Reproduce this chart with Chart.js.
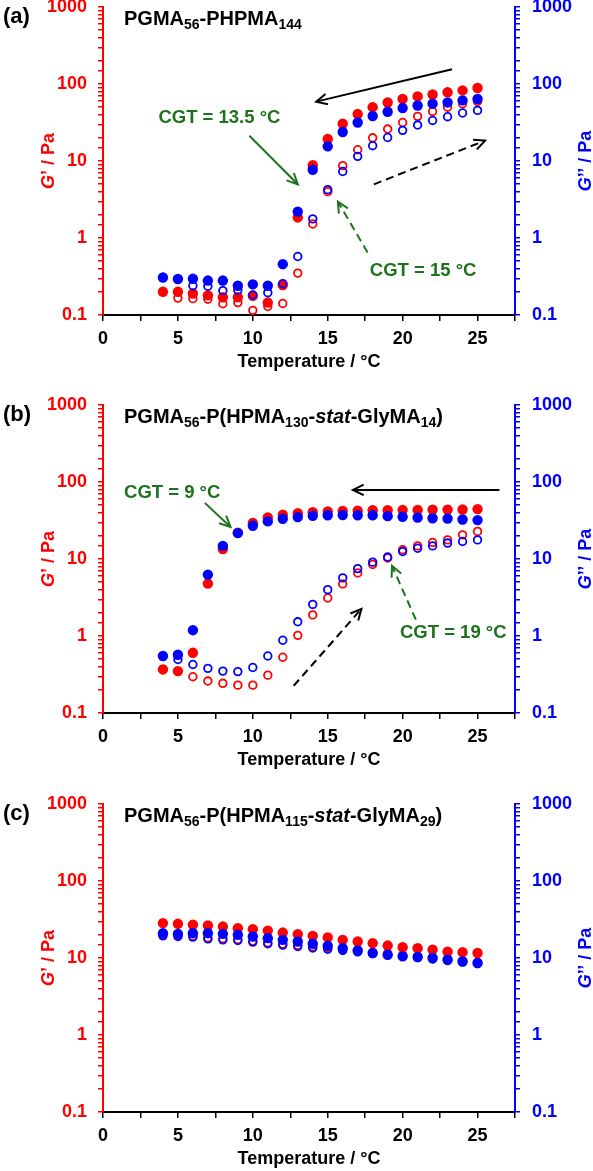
<!DOCTYPE html>
<html>
<head>
<meta charset="utf-8">
<script src="https://cdn.jsdelivr.net/npm/chart.js"></script>
<style>
body { margin: 0; width: 593px; height: 1171px; overflow: hidden; background: #fff; position: relative; }
canvas { position: absolute; left: 0; }
</style>
</head>
<body>
<canvas id="chart-a" width="593" height="395" style="top:-3px"></canvas>
<canvas id="chart-b" width="593" height="395" style="top:395px"></canvas>
<canvas id="chart-c" width="593" height="395" style="top:794px"></canvas>
<script>
// temperatures (°C), same for every panel
const temps = [4, 5, 6, 7, 8, 9, 10, 11, 12, 13, 14, 15, 16, 17, 18, 19, 20, 21, 22, 23, 24, 25];

// (a) PGMA56-PHPMA144 : filled = cooling, open = heating
const aCoolGp  = [0.20, 0.20, 0.19, 0.18, 0.17, 0.17, 0.178, 0.145, 0.245, 1.85, 8.8, 19.3, 30.5, 40.7, 50, 57.5, 63.8, 69, 73, 78, 82.6, 88.7];
const aCoolGpp = [0.307, 0.293, 0.295, 0.28, 0.28, 0.24, 0.25, 0.24, 0.457, 2.2, 7.7, 15.5, 23.8, 31.6, 38.4, 43.6, 48.7, 52.6, 55.5, 57.6, 61.2, 63.8];
const aHeatGp  = [null, 0.166, 0.163, 0.16, 0.14, 0.145, 0.115, 0.129, 0.141, 0.35, 1.52, 4.0, 8.7, 14, 20, 26, 31.6, 38, 44, 50, 55.5, 59.4];
const aHeatGpp = [null, null, 0.24, 0.236, 0.207, 0.21, 0.182, 0.195, 0.255, 0.575, 1.77, 4.24, 7.3, 11.5, 15.8, 20.2, 25, 29.3, 33.6, 37.6, 42, 45.4];

// (b) PGMA56-P(HPMA130-stat-GlyMA14)
const bCoolGp  = [0.368, 0.35, 0.605, 4.79, 13.5, 22, 29.3, 34.7, 37.5, 39.4, 40.6, 41.5, 42, 42.5, 43, 43, 43.2, 43.4, 43.6, 43.8, 44, 44.5];
const bCoolGpp = [0.55, 0.57, 1.19, 6.27, 14.8, 21.7, 27, 30.8, 33.3, 35, 36.4, 37, 37.2, 37, 37, 36, 35.3, 34.6, 33.8, 33.5, 32.6, 32];
const bHeatGp  = [null, null, 0.296, 0.26, 0.243, 0.23, 0.23, 0.31, 0.53, 1.02, 1.88, 3.12, 4.75, 6.6, 8.5, 10.3, 13.2, 14.8, 16.4, 17.7, 20.6, 22.8];
const bHeatGpp = [null, 0.495, 0.427, 0.38, 0.35, 0.345, 0.39, 0.55, 0.88, 1.53, 2.57, 4.0, 5.68, 7.5, 9.1, 10.6, 12.5, 13.8, 14.8, 16.1, 16.9, 17.7];

// (c) PGMA56-P(HPMA115-stat-GlyMA29)
const cCoolGp  = [28.4, 27.8, 27.0, 26.4, 25.6, 24.4, 23.7, 22.7, 21.4, 20.4, 19.4, 18.5, 17.2, 16.4, 15.6, 14.5, 13.8, 13.4, 12.8, 12.1, 11.9, 11.6];
const cCoolGpp = [21.0, 20.6, 21.0, 21.0, 20.6, 20.0, 19.0, 18.1, 17.2, 16.4, 15.3, 14.4, 13.4, 12.5, 11.6, 11.0, 10.5, 10.3, 10.0, 9.5, 9.0, 8.6];
const cHeatGp  = [20.0, 19.6, 19.2, 18.3, 17.8, 17.4, 16.6, 15.8, 15.2, 14.6, 14.0, 13.5, 12.9, 12.4, 11.8, 11.4, 10.9, 10.5, 10.1, 9.7, 9.2, 8.8];
const cHeatGpp = [19.4, 19.0, 18.7, 17.7, 17.2, 16.9, 16.1, 15.3, 14.7, 14.1, 13.5, 13.0, 12.5, 12.0, 11.4, 11.0, 10.5, 10.1, 9.7, 9.3, 8.9, 8.5];

const RED = '#ff0000';
const BLUE = '#0000ff';
const GREEN = '#1e721e';
const FONT = '"Liberation Sans", Arial, sans-serif';

function toPoints(values) {
    const pts = [];
    values.forEach((v, i) => {
        if (v !== null) pts.push({ x: temps[i], y: v });
    });
    return pts;
}

function drawArrow(ctx, x0, y0, x1, y1, color, dashed) {
    ctx.save();
    ctx.strokeStyle = color;
    ctx.lineWidth = 2;
    ctx.setLineDash(dashed ? [8, 5] : []);
    ctx.beginPath();
    ctx.moveTo(x0, y0);
    ctx.lineTo(x1, y1);
    ctx.stroke();
    ctx.setLineDash([]);
    const ang = Math.atan2(y1 - y0, x1 - x0);
    const len = 12, spread = 0.45;
    ctx.beginPath();
    ctx.moveTo(x1 - len * Math.cos(ang - spread), y1 - len * Math.sin(ang - spread));
    ctx.lineTo(x1, y1);
    ctx.lineTo(x1 - len * Math.cos(ang + spread), y1 - len * Math.sin(ang + spread));
    ctx.stroke();
    ctx.restore();
}

// draw a line of text made of runs (normal / subscript / italic)
function drawRuns(ctx, x, y, runs, size) {
    runs.forEach(r => {
        const s = r.sub ? Math.round(size * 0.7) : size;
        ctx.font = (r.italic ? 'italic ' : '') + 'bold ' + s + 'px ' + FONT;
        ctx.fillText(r.t, x, y + (r.sub ? 4 : 0));
        x += ctx.measureText(r.t).width;
    });
}

function runsWidth(ctx, runs, size) {
    let w = 0;
    runs.forEach(r => {
        const s = r.sub ? Math.round(size * 0.7) : size;
        ctx.font = (r.italic ? 'italic ' : '') + 'bold ' + s + 'px ' + FONT;
        w += ctx.measureText(r.t).width;
    });
    return w;
}

function drawVertical(ctx, cx, cy, runs, color) {
    ctx.save();
    ctx.translate(cx, cy);
    ctx.rotate(-Math.PI / 2);
    ctx.fillStyle = color;
    ctx.textBaseline = 'middle';
    const w = runsWidth(ctx, runs, 18);
    drawRuns(ctx, -w / 2, 0, runs, 18);
    ctx.restore();
}

const decorPlugin = {
    id: 'decor',
    afterDraw(chart) {
        const ctx = chart.ctx;
        const p = chart.options.plugins.decor;
        const xs = chart.scales.x, ys = chart.scales.y;
        const area = chart.chartArea;
        const mid = (area.top + area.bottom) / 2;

        ctx.save();
        ctx.fillStyle = '#000';
        ctx.textBaseline = 'alphabetic';
        ctx.font = 'bold 22px ' + FONT;
        ctx.fillText(p.label, 3, 26);
        drawRuns(ctx, 124, 28, p.title, 20);

        drawVertical(ctx, 49, mid, [{ t: 'G', italic: true }, { t: '’ / Pa' }], RED);
        drawVertical(ctx, 586, mid, [{ t: 'G', italic: true }, { t: '’’ / Pa' }], BLUE);

        p.arrows.forEach(a => {
            drawArrow(ctx,
                xs.getPixelForValue(a.from[0]), ys.getPixelForValue(a.from[1]),
                xs.getPixelForValue(a.to[0]), ys.getPixelForValue(a.to[1]),
                a.color, a.dashed);
        });
        p.notes.forEach(n => {
            ctx.fillStyle = n.color;
            ctx.font = 'bold 18.5px ' + FONT;
            ctx.textAlign = 'center';
            ctx.textBaseline = 'middle';
            ctx.fillText(n.text, xs.getPixelForValue(n.at[0]), ys.getPixelForValue(n.at[1]));
        });
        ctx.restore();
    }
};

function isDecade(v) {
    const l = Math.log10(v);
    return Math.abs(l - Math.round(l)) < 1e-6;
}

function yAxis(position, color, width) {
    return {
        type: 'logarithmic',
        position: position,
        min: 0.1,
        max: 1000,
        ticks: {
            autoSkip: false,
            color: color,
            padding: position === 'left' ? 11 : 12,
            font: { family: FONT, size: 18, weight: 'bold' },
            callback: v => isDecade(v) ? String(v) : ''
        },
        grid: { drawOnChartArea: false, color: color, tickLength: 5, lineWidth: 1.5 },
        border: { color: color, width: 2 },
        afterFit: s => { s.width = width; s.paddingTop = 0; s.paddingBottom = 0; }
    };
}

function makePanel(canvasId, sets, decor) {
    const ctx = document.getElementById(canvasId).getContext('2d');
    return new Chart(ctx, {
        type: 'scatter',
        data: {
            datasets: [
                { label: "G'' heat", data: toPoints(sets[3]), yAxisID: 'y2', order: 0,
                  pointRadius: 3.8, borderWidth: 1.8, borderColor: BLUE, backgroundColor: 'rgba(0,0,0,0)' },
                { label: "G'' cool", data: toPoints(sets[1]), yAxisID: 'y2', order: 1,
                  pointRadius: 5.2, borderWidth: 0, backgroundColor: BLUE },
                { label: "G' heat", data: toPoints(sets[2]), yAxisID: 'y', order: 2,
                  pointRadius: 3.8, borderWidth: 1.8, borderColor: RED, backgroundColor: 'rgba(0,0,0,0)' },
                { label: "G' cool", data: toPoints(sets[0]), yAxisID: 'y', order: 3,
                  pointRadius: 5.2, borderWidth: 0, backgroundColor: RED }
            ]
        },
        options: {
            responsive: false,
            animation: false,
            devicePixelRatio: 1,
            layout: { padding: { top: 10, bottom: 17, left: 0, right: 0 } },
            plugins: {
                legend: { display: false },
                tooltip: { enabled: false },
                decor: decor
            },
            scales: {
                x: {
                    type: 'linear',
                    min: 0,
                    max: 27.5,
                    ticks: {
                        stepSize: 2.5,
                        autoSkip: false,
                        maxRotation: 0,
                        color: '#000',
                        padding: 7,
                        font: { family: FONT, size: 18, weight: 'bold' },
                        callback: v => v % 5 === 0 ? String(v) : ''
                    },
                    grid: { drawOnChartArea: false, color: '#000', tickLength: 6, lineWidth: 1.5 },
                    border: { color: '#000', width: 2 },
                    title: {
                        display: true,
                        text: 'Temperature / °C',
                        color: '#000',
                        font: { family: FONT, size: 18, weight: 'bold' },
                        padding: { top: 0, bottom: 2 }
                    },
                    afterFit: s => { s.height = 60; }
                },
                y: yAxis('left', RED, 103),
                y2: yAxis('right', BLUE, 78)
            }
        },
        plugins: [decorPlugin]
    });
}

makePanel('chart-a', [aCoolGp, aCoolGpp, aHeatGp, aHeatGpp], {
    label: '(a)',
    title: [{ t: 'PGMA' }, { t: '56', sub: true }, { t: '-PHPMA' }, { t: '144', sub: true }],
    arrows: [
        { from: [23.3, 155], to: [14.23, 59], color: '#000', dashed: false },
        { from: [18.08, 4.98], to: [25.5, 18.4], color: '#000', dashed: true },
        { from: [9.77, 21.3], to: [13.0, 4.98], color: GREEN, dashed: false },
        { from: [17.66, 0.65], to: [15.68, 2.96], color: GREEN, dashed: true }
    ],
    notes: [
        { at: [7.77, 36.1], text: 'CGT = 13.5 °C', color: GREEN },
        { at: [21.37, 0.372], text: 'CGT = 15 °C', color: GREEN }
    ]
});

makePanel('chart-b', [bCoolGp, bCoolGpp, bHeatGp, bHeatGpp], {
    label: '(b)',
    title: [{ t: 'PGMA' }, { t: '56', sub: true }, { t: '-P(HPMA' }, { t: '130', sub: true },
            { t: '-' }, { t: 'stat', italic: true }, { t: '-GlyMA' }, { t: '14', sub: true }, { t: ')' }],
    arrows: [
        { from: [26.46, 78.9], to: [16.68, 78.9], color: '#000', dashed: false },
        { from: [6.8, 53.6], to: [8.51, 26.1], color: GREEN, dashed: false },
        { from: [12.73, 0.226], to: [17.25, 2.25], color: '#000', dashed: true },
        { from: [20.88, 1.63], to: [19.29, 8.15], color: GREEN, dashed: true }
    ],
    notes: [
        { at: [4.62, 72.1], text: 'CGT = 9 °C', color: GREEN },
        { at: [23.38, 1.10], text: 'CGT = 19 °C', color: GREEN }
    ]
});

makePanel('chart-c', [cCoolGp, cCoolGpp, cHeatGp, cHeatGpp], {
    label: '(c)',
    title: [{ t: 'PGMA' }, { t: '56', sub: true }, { t: '-P(HPMA' }, { t: '115', sub: true },
            { t: '-' }, { t: 'stat', italic: true }, { t: '-GlyMA' }, { t: '29', sub: true }, { t: ')' }],
    arrows: [],
    notes: []
});
</script>
</body>
</html>
